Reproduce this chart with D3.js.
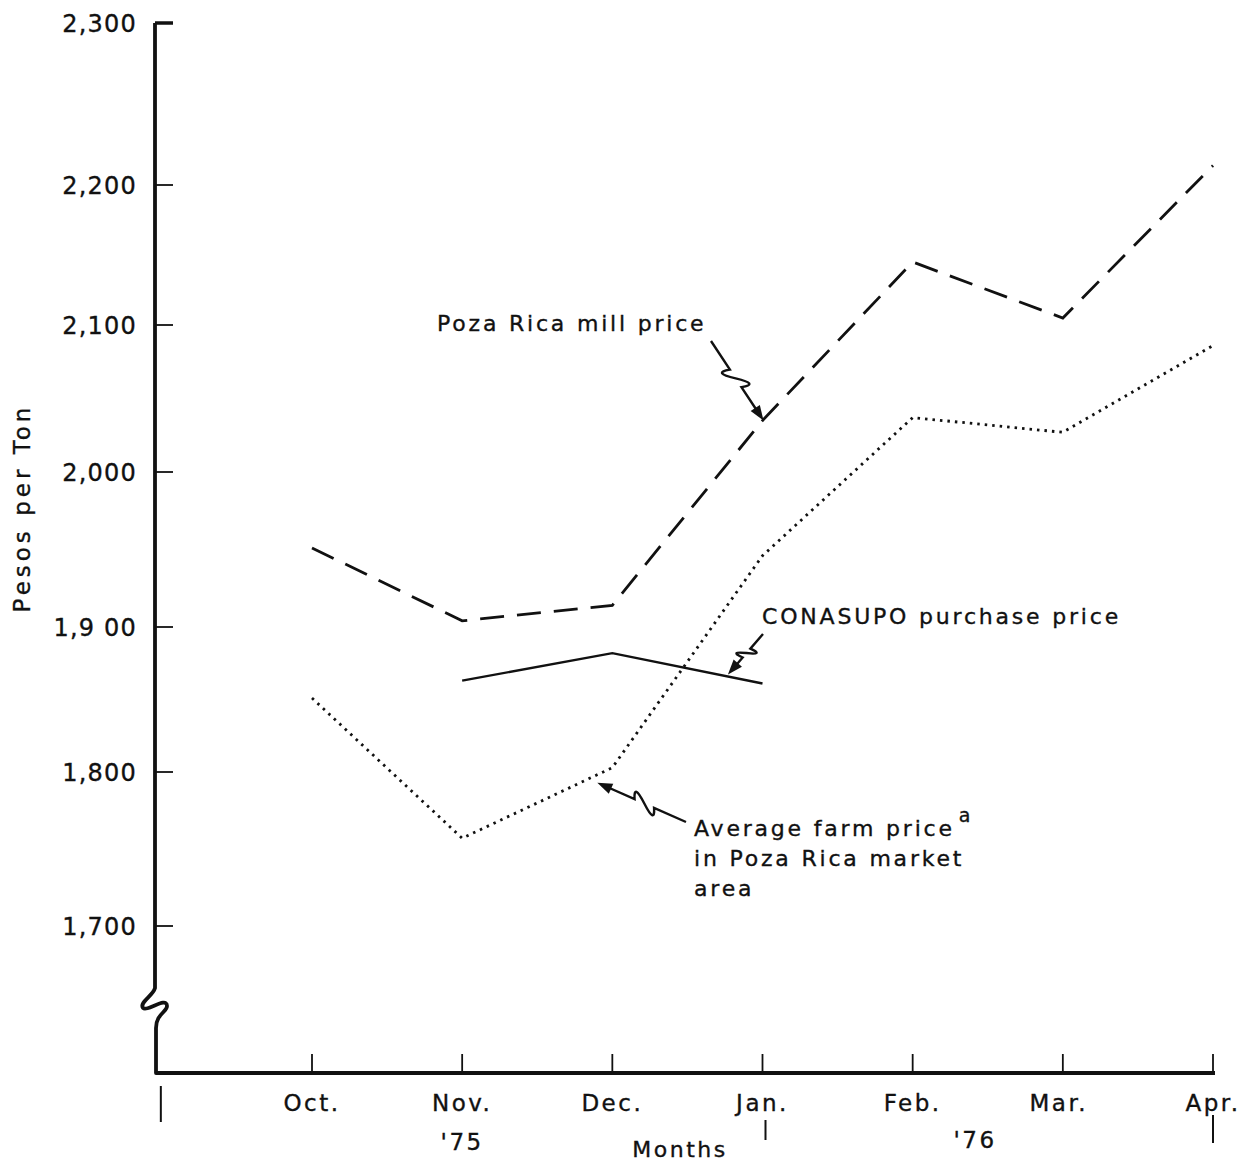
<!DOCTYPE html>
<html><head><meta charset="utf-8">
<script src="https://cdn.jsdelivr.net/npm/d3@7"></script>
<style>
html,body{margin:0;padding:0;background:#fff;}
text{font-family:"DejaVu Sans",sans-serif;fill:#111;stroke:#111;stroke-width:0.35;}
</style></head>
<body><svg id="c" width="1256" height="1163"></svg>
<script>
// ---- data ----
const months = ["Oct.","Nov.","Dec.","Jan.","Feb.","Mar.","Apr."];
const yTicks = [1700,1800,1900,2000,2100,2200,2300];
const yTickLabels = ["1,700","1,800","1,9 00","2,000","2,100","2,200","2,300"];
const millPrice = [1951,1904,1914,2035,2145,2105,2212];
const farmPrice = [1851,1757,1803,1946,2037,2027,2086];
const conasupoMonths = [1,2,3];
const conasupoPrice = [1863,1882,1861];

const svg = d3.select("#c");
// x: month index; y: scanned axis is slightly uneven, so map each tick
const x = d3.scaleLinear().domain([0,6]).range([312,1213]);
const y = d3.scaleLinear().domain(yTicks).range([926,772,627,472,325,185,23]);
const axisX = 155, baseY = 1073;

const ink = "#111";
// y axis line with break
const breakTop = 988, breakBot = 1022;
svg.append("path")
  .attr("d", `M${axisX},${y(2300)} L${axisX},${breakTop} C${axisX-2},${breakTop+8} ${axisX-16},${breakTop+14} ${axisX-12},${breakTop+20} C${axisX-8},${breakTop+24} ${axisX+12},${breakTop+8} ${axisX+12},${breakTop+18} C${axisX+12},${breakTop+24} ${axisX+1},${breakTop+26} ${axisX+1},${breakBot+6} L${axisX+1},${baseY} L1215,${baseY}`)
  .attr("fill","none").attr("stroke",ink).attr("stroke-width",3.8).attr("stroke-linejoin","round");

// y ticks
svg.selectAll(".yt").data(yTicks).enter().append("line")
  .attr("x1",axisX).attr("x2",axisX+18)
  .attr("y1",d=>y(d)).attr("y2",d=>y(d))
  .attr("stroke",ink).attr("stroke-width",(d,i)=> i===yTicks.length-1?3.5:1.8);
svg.selectAll(".yl").data(yTicks).enter().append("text")
  .attr("x",137).attr("y",d=>y(d)).attr("dy","0.36em")
  .attr("text-anchor","end").attr("font-size",24).attr("letter-spacing",1.2)
  .text((d,i)=>yTickLabels[i]);

// x ticks
svg.selectAll(".xt").data(months).enter().append("line")
  .attr("x1",(d,i)=>x(i)).attr("x2",(d,i)=>x(i))
  .attr("y1",baseY-19).attr("y2",baseY)
  .attr("stroke",ink).attr("stroke-width",1.8);
svg.selectAll(".xl").data(months).enter().append("text")
  .attr("x",(d,i)=>x(i)+ (i===5?-4:0)).attr("y",1111)
  .attr("text-anchor","middle").attr("font-size",23).attr("letter-spacing",2.5)
  .text(d=>d);

// year separators below axis
const seps = [[x(-1)-1,1086,1122],[x(3)+3,1120,1140],[x(6),1115,1143]];
svg.selectAll(".sep").data(seps).enter().append("line")
  .attr("x1",d=>d[0]).attr("x2",d=>d[0]).attr("y1",d=>d[1]).attr("y2",d=>d[2])
  .attr("stroke",ink).attr("stroke-width",2);

svg.append("text").attr("x",x(1)).attr("y",1150).attr("text-anchor","middle")
  .attr("font-size",23).attr("letter-spacing",2.5).text("'75");
svg.append("text").attr("x",975).attr("y",1148).attr("text-anchor","middle")
  .attr("font-size",23).attr("letter-spacing",2.5).text("'76");
svg.append("text").attr("x",680).attr("y",1157).attr("text-anchor","middle")
  .attr("font-size",22).attr("letter-spacing",2.5).text("Months");
svg.append("text").attr("transform","translate(30,508) rotate(-90)")
  .attr("text-anchor","middle").attr("font-size",23).attr("letter-spacing",4).text("Pesos per Ton");

// series
const line = d3.line().x(d=>x(d[0])).y(d=>y(d[1]));
svg.append("path").datum(millPrice.map((v,i)=>[i,v]))
  .attr("d",line).attr("fill","none").attr("stroke",ink)
  .attr("stroke-width",2.8).attr("stroke-dasharray","24,13");
svg.append("path").datum(farmPrice.map((v,i)=>[i,v]))
  .attr("d",line).attr("fill","none").attr("stroke",ink)
  .attr("stroke-width",2.8).attr("stroke-dasharray","2.5,5");
svg.append("path").datum(conasupoPrice.map((v,i)=>[conasupoMonths[i],v]))
  .attr("d",line).attr("fill","none").attr("stroke",ink)
  .attr("stroke-width",2.4);

// annotations with squiggle arrows
function squiggleArrow(x0,y0,x1,y1,flip,amp){
  amp = amp||14;
  const dx=x1-x0, dy=y1-y0, L=Math.hypot(dx,dy);
  const ux=dx/L, uy=dy/L, nx=-uy*(flip?-1:1), ny=ux*(flip?-1:1);
  const P=(t,n)=>[x0+ux*L*t+nx*n, y0+uy*L*t+ny*n];
  const a=P(0.36,0), m=P(0.47,0), b=P(0.58,0);
  const c1=P(0.28,amp), c2=P(0.66,-amp);
  const hb=P(1-15/L,0);
  const sh=P(1-12/L,0);
  const path=`M${x0},${y0} L${a} Q${c1} ${m} Q${c2} ${b} L${sh}`;
  svg.append("path").attr("d",path).attr("fill","none").attr("stroke",ink).attr("stroke-width",2.4);
  const h1=[hb[0]+nx*5.5, hb[1]+ny*5.5], h2=[hb[0]-nx*5.5, hb[1]-ny*5.5];
  svg.append("path").attr("d",`M${x1},${y1} L${h1} L${h2} Z`).attr("fill",ink);
}
const lerp=(a,b,t)=>a+(b-a)*t;

svg.append("text").attr("x",437).attr("y",331).attr("font-size",22).attr("letter-spacing",2.8)
  .text("Poza Rica mill price");
squiggleArrow(711,341, x(3)+1, y(millPrice[3]), false, 17);

svg.append("text").attr("x",762).attr("y",624).attr("font-size",22).attr("letter-spacing",2.8)
  .text("CONASUPO purchase price");
squiggleArrow(763,634, lerp(x(2),x(3),0.77), lerp(y(conasupoPrice[1]),y(conasupoPrice[2]),0.77)-2, true, 15);

const farm = svg.append("text").attr("font-size",22).attr("letter-spacing",2.8);
farm.append("tspan").attr("x",694).attr("y",836).text("Average farm price");
farm.append("tspan").attr("dx",4).attr("dy",-14).attr("font-size",19).text("a");
farm.append("tspan").attr("x",694).attr("y",866).text("in Poza Rica market");
farm.append("tspan").attr("x",694).attr("y",896).text("area");
squiggleArrow(686,822, x(2)-15, y(farmPrice[2])+15, true, 15);
</script></body></html>
